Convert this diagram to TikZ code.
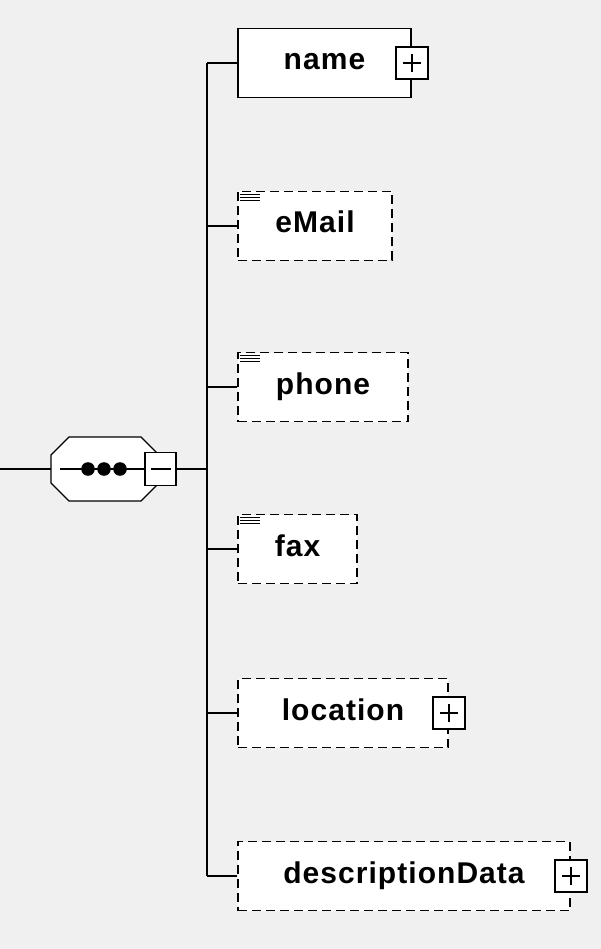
\documentclass[tikz,border=0pt]{standalone}
\usepackage{fontspec}
\setmainfont{Liberation Sans}[LetterSpace=3.5]
\usetikzlibrary{calc}
\definecolor{paper}{RGB}{240,240,240}
\tikzset{
  wire/.style={line width=1.5pt},
  elem/.style={draw, fill=white, line width=1.6pt, minimum height=69pt,
    text height=21pt, text depth=7pt, inner sep=0pt,
    font=\fontsize{30}{35}\selectfont\bfseries},
  opt/.style={elem, dash pattern=on 9pt off 5pt},
  plusbox/.style={draw, fill=white, line width=1.4pt, minimum size=32pt, inner sep=0pt,
    path picture={\draw[line width=1.4pt] ($(path picture bounding box.center)+(-9pt,0)$) -- +(18pt,0)
      ($(path picture bounding box.center)+(0,-9pt)$) -- +(0,18pt);}},
  minusbox/.style={draw, fill=white, line width=1.4pt, minimum width=31pt, minimum height=33pt, inner sep=0pt,
    path picture={\draw[line width=1.4pt] ($(path picture bounding box.center)+(-10pt,0)$) -- +(20pt,0);}},
}
\newcommand{\docmark}[1]{\foreach \k in {0,1,2} \draw[line width=1.4pt] ($(#1.north west)+(3pt,-4pt-3*\k pt)$) -- +(20pt,0);}
\begin{document}
\begin{tikzpicture}[x=1pt,y=-1pt]
		%%%%% START %%%%%
		\fill[paper] (0,0) rectangle (601,949);
		\useasboundingbox (0,0) rectangle (601,949);
		
		% sequence
		\coordinate (in) at (0,469);
		\coordinate (bus) at (207,469);
		\draw[wire] (in) -- (51,469);
		\draw[line width=1.4pt, fill=white] (51,455) -- (69,437) -- (141,437) -- (158,454)
			-- (158,484) -- (141,501) -- (69,501) -- (51,483) -- cycle;
		\node[minusbox] (minus) at (160.5,469) {};
		\draw[wire] (60,469) -- (minus.west);
		\foreach \x in {88,104,120} \fill (\x,469) circle (6.8);
		\draw[wire] (minus.east) -- (bus);
		
		% children
		\node[elem, minimum width=173pt] (name) at (324.5,63) {name};
		\node[opt, minimum width=154pt] (eMail) at (315,226) {eMail};
		\node[opt, minimum width=170pt] (phone) at (323,387) {phone};
		\node[opt, minimum width=119pt] (fax) at (297.5,549) {fax};
		\node[opt, minimum width=210pt] (location) at (343,713) {location};
		\node[opt, minimum width=332pt] (descData) at (404,876) {descriptionData};
		
		\docmark{eMail}
		\docmark{phone}
		\docmark{fax}
		
		\node[plusbox] (namePlus) at (name.east) {};
		\node[plusbox] (locationPlus) at (location.east) {};
		\node[plusbox] (descDataPlus) at (descData.east) {};
		
		\draw[wire] (bus |- name.west) -- (bus |- descData.west);
		\foreach \n in {name,eMail,phone,fax,location,descData}
			\draw[wire] (bus |- \n.west) -- (\n.west);
		%%%%% END %%%%%
\end{tikzpicture}
\end{document}
